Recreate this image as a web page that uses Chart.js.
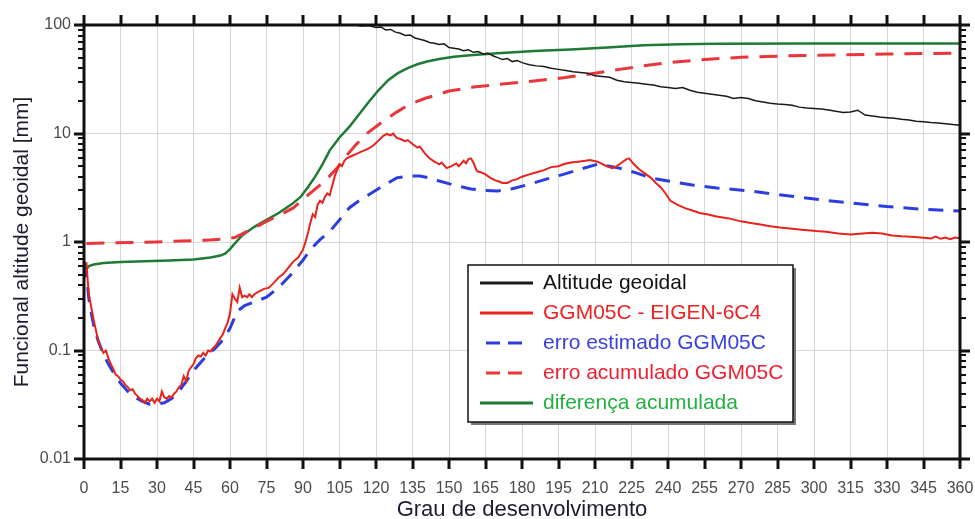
<!DOCTYPE html>
<html>
<head>
<meta charset="utf-8">
<script src="https://cdn.jsdelivr.net/npm/chart.js@4.4.1/dist/chart.umd.min.js"></script>
<style>
    body { margin: 0; background: #ffffff; }
    #wrap { width: 975px; height: 519px; }
</style>
</head>
<body>
<div id="wrap"><canvas id="myChart" width="975" height="519"></canvas></div>
<script>
// values (grau, mm)
var altitudeX = [105, 110, 114, 117, 120, 122, 124, 126, 128, 130, 132, 134, 136, 138, 140, 142, 144, 146, 148, 150,
    152, 154, 156, 158, 160, 162, 164, 166, 168, 170, 172, 174, 176, 178, 180, 183, 186, 189, 192, 195,
    198, 201, 204, 207, 210, 213, 216, 219, 222, 225, 228, 231, 234, 237, 240, 243, 246, 249, 252, 255,
    258, 261, 264, 267, 270, 273, 276, 279, 282, 285, 288, 291, 294, 297, 300, 303, 306, 309, 312, 315,
    318, 321, 324, 327, 330, 333, 336, 339, 342, 345, 348, 351, 354, 357, 360];
var altitudeY = [108, 101, 98, 99, 95, 96, 90, 91, 86, 84, 80, 81, 76, 74, 72, 69, 68, 66, 67, 62,
    61, 60, 58, 59, 56, 57, 54, 55, 52, 50, 48, 49, 46, 47, 45, 43, 42, 41.5, 40, 39,
    38, 37, 36.5, 36, 34, 33.5, 33, 31, 30, 29.5, 29, 28.5, 28, 27, 26.5, 26, 26.5, 25, 24, 23.5,
    23, 22.5, 22, 21, 21.5, 21, 20, 19.5, 19, 18.7, 18.5, 18.2, 17.5, 17.2, 17, 16.8, 16.5, 16, 15.6, 15.8,
    16.4, 14.8, 14.5, 14.2, 14, 13.8, 13.5, 13.3, 13, 12.8, 12.6, 12.5, 12.3, 12.1, 11.9];

var diffX = [1, 1.5, 2, 3, 4, 5, 6, 7, 8, 9, 10, 11, 12, 13, 14, 15, 16, 17, 18, 19,
    20, 21, 22, 23, 24, 25, 26, 27, 28, 29, 30, 31, 32, 33, 34, 35, 36, 37, 38, 39,
    40, 41, 42, 43, 44, 45, 46, 47, 48, 49, 50, 51, 52, 53, 54, 55, 56, 57, 58, 59,
    60, 61, 62, 63, 64, 65, 66, 67, 68, 69, 70, 72, 74, 76, 78, 80, 82, 84, 86, 88,
    90, 91, 92, 93, 94, 95, 96, 97, 98, 99, 100, 101, 102, 103, 104, 105, 106, 107, 108, 110,
    112, 114, 116, 117.5, 119, 121, 123, 124.5, 126, 127, 128.5, 130, 132, 133, 135, 137, 138, 140, 142, 144,
    146, 147, 149, 151, 153, 154, 156, 157, 158, 159, 160, 161.5, 163, 165, 167, 169, 170, 172, 174, 176,
    178, 180, 183, 186, 189, 192, 195, 197, 200, 203, 206, 208, 211, 214, 217, 219, 221, 223, 224, 226,
    228, 231, 233, 235, 237, 239, 241, 244, 247, 250, 253, 256, 260, 265, 270, 274, 278, 282, 286, 290,
    295, 301, 305, 310, 315, 320, 324, 328, 332, 336, 340, 344, 348, 350, 352, 354, 356, 358, 360];
var diffY = [0.65, 0.45, 0.33, 0.25, 0.19, 0.15, 0.12, 0.105, 0.095, 0.1, 0.085, 0.075, 0.068, 0.06, 0.058, 0.054, 0.052, 0.048, 0.046, 0.043,
    0.044, 0.04, 0.038, 0.036, 0.035, 0.033, 0.036, 0.034, 0.036, 0.033, 0.036, 0.034, 0.042, 0.037, 0.036, 0.038, 0.037, 0.04, 0.042, 0.046,
    0.048, 0.058, 0.052, 0.065, 0.07, 0.075, 0.085, 0.09, 0.088, 0.095, 0.09, 0.1, 0.098, 0.105, 0.11, 0.12, 0.13, 0.14, 0.16, 0.18,
    0.22, 0.33, 0.3, 0.28, 0.38, 0.31, 0.32, 0.31, 0.33, 0.31, 0.33, 0.35, 0.37, 0.38, 0.42, 0.47, 0.51, 0.58, 0.66, 0.72,
    0.85, 1.0, 1.2, 1.5, 1.8, 1.7, 2.2, 2.4, 2.3, 2.6, 2.8, 2.7, 3.3, 4.0, 4.6, 5.2, 5.0, 5.6, 5.9, 6.2,
    6.5, 6.8, 7.1, 7.4, 7.8, 8.6, 9.5, 9.9, 9.6, 10.0, 9.1, 8.9, 8.5, 8.7, 8.0, 7.4, 7.6, 6.6, 5.9, 5.5,
    5.2, 5.4, 4.8, 5.0, 5.3, 5.0, 5.6, 5.3, 5.8, 5.9, 5.4, 4.5, 4.4, 4.2, 3.9, 3.7, 3.65, 3.5, 3.5, 3.7,
    3.8, 4.0, 4.2, 4.4, 4.6, 4.9, 5.0, 5.2, 5.4, 5.5, 5.6, 5.7, 5.5, 5.1, 4.8, 5.0, 5.4, 5.8, 5.9, 5.2,
    4.7, 4.2, 3.9, 3.5, 3.2, 2.8, 2.4, 2.2, 2.05, 1.95, 1.85, 1.8, 1.72, 1.65, 1.55, 1.5, 1.45, 1.4, 1.36, 1.33,
    1.3, 1.26, 1.24, 1.2, 1.17, 1.2, 1.22, 1.2, 1.15, 1.13, 1.12, 1.1, 1.08, 1.12, 1.07, 1.1, 1.06, 1.1, 1.08];

var errEstX = [0.5, 1, 2, 3, 4, 5, 6, 8, 10, 12, 15, 18, 21, 24, 27, 30, 33, 36, 39, 42,
    45, 48, 51, 54, 57, 60, 63, 66, 70, 75, 80, 85, 90, 93, 97, 101, 105, 109, 113, 117.5,
    123, 128.5, 133, 138, 142, 146, 152, 159, 165, 170, 176, 183, 190, 197, 204, 211, 216, 220, 226, 233,
    240, 250, 260, 274, 290, 305, 315, 330, 345, 360];
var errEstY = [0.65, 0.5, 0.3, 0.22, 0.17, 0.14, 0.12, 0.092, 0.075, 0.063, 0.05, 0.042, 0.037, 0.034, 0.032, 0.032, 0.033, 0.036, 0.042, 0.052,
    0.065, 0.078, 0.092, 0.105, 0.125, 0.16, 0.23, 0.26, 0.28, 0.31, 0.38, 0.5, 0.68, 0.85, 1.05, 1.25, 1.6, 2.06, 2.4, 2.77,
    3.3, 3.9, 4.05, 4.06, 3.9, 3.65, 3.35, 3.08, 2.98, 2.95, 3.1, 3.4, 3.8, 4.2, 4.7, 5.2, 5.0, 4.8, 4.4, 3.9,
    3.65, 3.35, 3.15, 2.95, 2.65, 2.42, 2.29, 2.12, 2.0, 1.93];

var errAcumX = [1, 10, 20, 30, 40, 50, 58, 62, 66, 70, 75, 80, 86, 92, 99, 104, 108, 112, 117, 123,
    128, 134, 140, 150, 160, 172, 185, 197, 210, 220, 230, 240, 255, 270, 290, 310, 330, 345, 360];
var errAcumY = [0.97, 0.98, 0.99, 1.0, 1.02, 1.04, 1.07, 1.1, 1.22, 1.35, 1.55, 1.75, 2.06, 2.7, 3.65, 4.8, 6.3, 8.0, 10.3, 13,
    15.5, 18.7, 21, 24.6, 26.8, 28.6, 30.5, 32.6, 36, 39, 42, 45, 48, 50.5, 52, 53, 54, 54.5, 55];

var acumX = [0.5, 1, 2, 4, 8, 15, 25, 35, 45, 52, 56, 58, 60, 62, 65, 70, 75, 80, 85, 89,
    92, 95, 98, 101, 105, 109, 113, 117, 121, 125, 129, 133, 137, 141, 146, 152, 160, 170, 185, 200,
    215, 230, 245, 260, 300, 360];
var acumY = [0.5, 0.56, 0.6, 0.62, 0.64, 0.655, 0.665, 0.675, 0.69, 0.72, 0.75, 0.78, 0.86, 0.97, 1.15, 1.38, 1.6, 1.85, 2.2, 2.6,
    3.2, 4.0, 5.2, 7.0, 9.2, 11.5, 15, 19.5, 25, 31, 36, 40, 43.5, 46, 48.5, 51, 53, 55, 57.5, 59.5,
    62, 65, 66.5, 67, 67.5, 67.5];

var seriesNames = ['Altitude geoidal', 'GGM05C - EIGEN-6C4', 'erro estimado GGM05C', 'erro acumulado GGM05C', 'diferença acumulada'];
var legendTextColors = ['#111111', '#ee2222', '#3b3fe0', '#ee2233', '#22b040'];
var xTicks = 15;

function pts(xs, ys) {
    return xs.map(function (x, i) { return {x: x, y: ys[i]}; });
}

var datasets = [
    {label: seriesNames[0], data: pts(altitudeX, altitudeY), borderColor: '#1a1a1a', borderWidth: 1.5},
    {label: seriesNames[1], data: pts(diffX, diffY), borderColor: '#e8231c', borderWidth: 2},
    {label: seriesNames[2], data: pts(errEstX, errEstY), borderColor: '#2b3de0', borderWidth: 3, borderDash: [15, 10]},
    {label: seriesNames[3], data: pts(errAcumX, errAcumY), borderColor: '#e8363a', borderWidth: 3, borderDash: [18, 11]},
    {label: seriesNames[4], data: pts(acumX, acumY), borderColor: '#1f7a35', borderWidth: 2.5}
];
datasets.forEach(function (d) {
    d.pointRadius = 0;
    d.tension = 0;
    d.fill = false;
});

function isDecade(v) {
    var l = Math.log10(v);
    return Math.abs(l - Math.round(l)) < 1e-6;
}

// frame, outside ticks and the boxed legend
const framePlugin = {
    id: 'frame',
    afterDraw(chart) {
        var ctx = chart.ctx;
        var a = chart.chartArea;
        var xs = chart.scales.x;
        var ys = chart.scales.y;
        ctx.save();
        ctx.strokeStyle = '#111';
        ctx.lineCap = 'butt';

        // x ticks top & bottom
        ctx.lineWidth = 3;
        for (var v = 0; v <= 360; v += xTicks) {
            var px = Math.round(xs.getPixelForValue(v));
            ctx.beginPath();
            ctx.moveTo(px, a.bottom);
            ctx.lineTo(px, a.bottom + 10);
            ctx.moveTo(px, a.top);
            ctx.lineTo(px, a.top - 10);
            ctx.stroke();
        }
        // y ticks left & right (log minors)
        for (var d = -2; d <= 2; d++) {
            for (var k = 1; k <= 9; k++) {
                var val = k * Math.pow(10, d);
                if (val > 100.0001) break;
                var py = Math.round(ys.getPixelForValue(val));
                var len = k == 1 ? 10 : 6;
                ctx.lineWidth = k == 1 ? 3 : 2;
                ctx.beginPath();
                ctx.moveTo(a.left, py);
                ctx.lineTo(a.left - len, py);
                ctx.moveTo(a.right, py);
                ctx.lineTo(a.right + len, py);
                ctx.stroke();
            }
        }
        ctx.lineWidth = 3;
        ctx.strokeRect(a.left, a.top, a.right - a.left, a.bottom - a.top);

        // legend box
        var bx = 468, by = 265, bw = 325, bh = 157;
        ctx.fillStyle = '#777';
        ctx.fillRect(bx + 3, by + 3, bw, bh);
        ctx.fillStyle = '#fff';
        ctx.fillRect(bx, by, bw, bh);
        ctx.lineWidth = 1.5;
        ctx.strokeStyle = '#111';
        ctx.strokeRect(bx, by, bw, bh);

        ctx.font = '21px "Liberation Sans", Arial, sans-serif';
        ctx.textBaseline = 'middle';
        chart.data.datasets.forEach(function (ds, i) {
            var ry = by + 18 + i * 30;
            ctx.strokeStyle = ds.borderColor;
            ctx.lineWidth = 3;
            if (ds.borderDash) {
                ctx.setLineDash([14, 8]);
                ctx.beginPath();
                ctx.moveTo(486, ry);
                ctx.lineTo(530, ry);
                ctx.stroke();
                ctx.setLineDash([]);
            } else {
                ctx.beginPath();
                ctx.moveTo(480, ry);
                ctx.lineTo(533, ry);
                ctx.stroke();
            }
            ctx.fillStyle = legendTextColors[i];
            ctx.fillText(ds.label, 543, ry);
        });
        ctx.restore();
    }
};

const config = {
    type: 'line',
    data: {datasets: datasets},
    options: {
        responsive: false,
        devicePixelRatio: 1,
        animation: false,
        layout: {padding: {left: 0, right: 15, top: 25, bottom: 0}},
        plugins: {
            legend: {display: false},
            tooltip: {enabled: false}
        },
        scales: {
            x: {
                type: 'linear',
                min: 0,
                max: 360,
                afterFit: function (s) {
                    s.height = 60;
                    s.paddingLeft = 0;
                    s.paddingRight = 0;
                },
                ticks: {
                    stepSize: xTicks,
                    autoSkip: false,
                    maxRotation: 0,
                    padding: 20,
                    color: '#4a4a4a',
                    font: {family: '"Liberation Sans", Arial, sans-serif', size: 16}
                },
                grid: {color: '#d6d6d6', lineWidth: 1, drawTicks: false},
                border: {display: false},
                title: {
                    display: true,
                    text: 'Grau de desenvolvimento',
                    color: '#1c1c30',
                    padding: {top: 0, bottom: 0},
                    font: {family: '"Liberation Sans", Arial, sans-serif', size: 22, lineHeight: 0.8}
                }
            },
            y: {
                type: 'logarithmic',
                min: 0.01,
                max: 100,
                afterFit: function (s) {
                    s.width = 84;
                    s.paddingTop = 0;
                    s.paddingBottom = 0;
                },
                ticks: {
                    autoSkip: false,
                    padding: 13,
                    color: '#4a4a4a',
                    font: {family: '"Liberation Sans", Arial, sans-serif', size: 16},
                    callback: function (value) {
                        return isDecade(value) ? String(value) : '';
                    }
                },
                grid: {
                    drawTicks: false,
                    lineWidth: 1,
                    color: function (c) {
                        return c.tick && isDecade(c.tick.value) ? '#d6d6d6' : 'rgba(0,0,0,0)';
                    }
                },
                border: {display: false},
                title: {
                    display: true,
                    text: 'Funcional altitude geoidal [mm]',
                    color: '#1c1c30',
                    padding: {top: 10, bottom: 0},
                    font: {family: '"Liberation Sans", Arial, sans-serif', size: 21}
                }
            }
        }
    },
    plugins: [framePlugin]
};

var geoChart = new Chart(document.getElementById('myChart'), config);
</script>
</body>
</html>
